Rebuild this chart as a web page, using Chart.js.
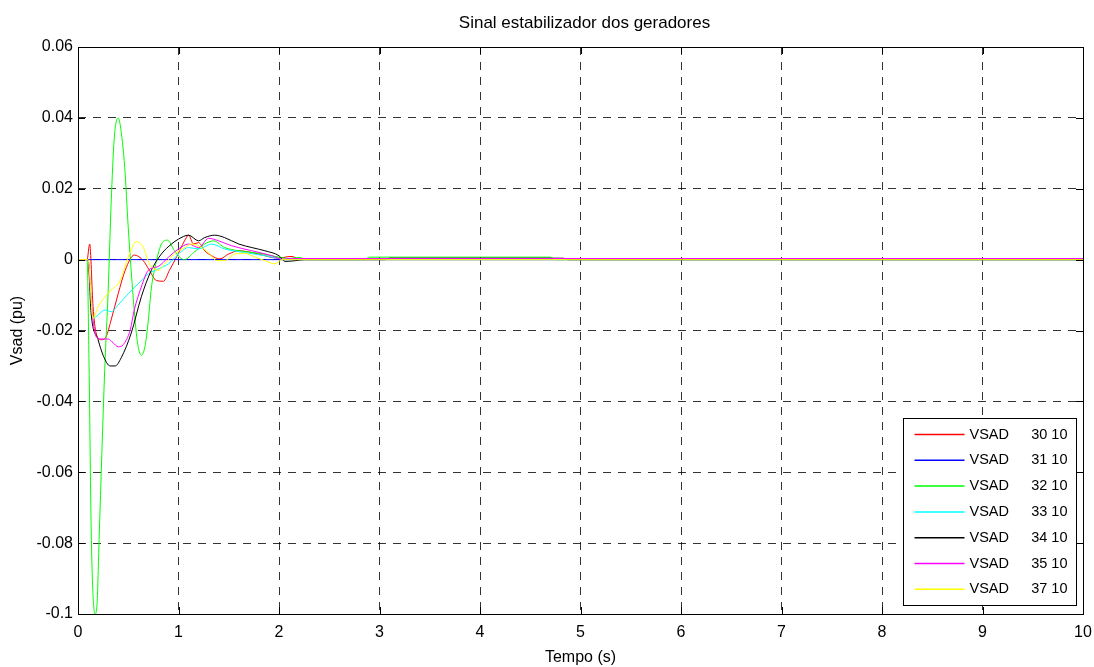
<!DOCTYPE html>
<html>
<head>
<meta charset="utf-8">
<script src="https://cdn.jsdelivr.net/npm/chart.js@4"></script>
<style>
  body { margin: 0; background: #fff; }
  canvas { display: block; }
</style>
</head>
<body>
<canvas id="vsad" width="1094" height="667"></canvas>
<script>
const TITLE = 'Sinal estabilizador dos geradores';

// axis ticks
const xTicks = [0, 1, 2, 3, 4, 5, 6, 7, 8, 9, 10];
const xTickLabels = ['0', '1', '2', '3', '4', '5', '6', '7', '8', '9', '10'];
const yTicks = [-0.1, -0.08, -0.06, -0.04, -0.02, 0, 0.02, 0.04, 0.06];
const yTickLabels = ['-0.1', '-0.08', '-0.06', '-0.04', '-0.02', '0', '0.02', '0.04', '0.06'];

// legend names (generator bus)
const names = ['VSAD      30 10', 'VSAD      31 10', 'VSAD      32 10', 'VSAD      33 10',
               'VSAD      34 10', 'VSAD      35 10', 'VSAD      37 10'];
const colors = ['#ff0000', '#0000ff', '#00ff00', '#00ffff', '#000000', '#ff00ff', '#ffff00'];

// series: time (s) and Vsad (pu)
const t30 = [0, 0.09, 0.116, 0.15, 0.18, 0.23, 0.28, 0.33, 0.40, 0.47, 0.56, 0.65, 0.71, 0.78, 0.85, 0.91, 0.98, 1.06, 1.10, 1.15, 1.20, 1.26, 1.33, 1.41, 1.50, 1.60, 1.73, 1.86, 1.93, 2.0, 2.08, 2.13, 2.2, 10];
const v30 = [0, 0, 0.0044, -0.0133, -0.0207, -0.0226, -0.0217, -0.017, -0.0096, -0.003, 0.0013, -0.0003, -0.003, -0.0059, -0.0061, -0.003, 0.0007, 0.0053, 0.0069, 0.0044, 0.0048, 0.0025, 0.0011, 0.0002, 0.0016, 0.0025, 0.002, 0.0011, 0.0006, 0.0004, 0.0008, 0.0009, 0, 0];

const t31 = [0, 10];
const v31 = [0, 0];

const t32 = [0, 0.09, 0.11, 0.133, 0.17, 0.19, 0.21, 0.266, 0.30, 0.33, 0.36, 0.40, 0.42, 0.465, 0.50, 0.55, 0.59, 0.63, 0.67, 0.70, 0.73, 0.76, 0.83, 0.89, 0.96, 1.02, 1.06, 1.15, 1.26, 1.35, 1.46, 1.6, 1.8, 2.0, 2.1, 2.2, 2.28, 2.85, 2.9, 4.7, 4.75, 10];
const v32 = [0, 0, -0.03, -0.079, -0.1, -0.097, -0.079, -0.031, -0.009, 0.016, 0.034, 0.040, 0.038, 0.026, 0.009, -0.011, -0.023, -0.027, -0.024, -0.017, -0.008, -0.003, 0.0044, 0.0055, 0.0025, 0.0005, 0, 0.002, 0.0044, 0.0053, 0.0034, 0.0025, 0.0018, 0.0007, 0.0003, 0.0006, 0, 0, 0.0007, 0.0007, 0, 0];

const t33 = [0, 0.1, 0.13, 0.15, 0.2, 0.27, 0.33, 0.4, 0.5, 0.6, 0.7, 0.8, 0.9, 1.0, 1.1, 1.2, 1.33, 1.46, 1.66, 1.86, 2.0, 2.05, 10];
const v33 = [0, 0, -0.01, -0.0166, -0.0156, -0.0142, -0.0147, -0.0128, -0.0096, -0.0068, -0.004, -0.0026, -0.0012, 0.0016, 0.0034, 0.003, 0.0044, 0.003, 0.002, 0.0011, 0.0003, 0, 0];

const t34 = [0, 0.1, 0.13, 0.2, 0.25, 0.32, 0.37, 0.43, 0.53, 0.63, 0.73, 0.83, 0.93, 1.0, 1.1, 1.2, 1.26, 1.36, 1.46, 1.6, 1.73, 1.86, 2.0, 2.06, 2.16, 2.25, 3.05, 3.1, 4.83, 4.88, 10];
const v34 = [0, 0, -0.015, -0.0226, -0.027, -0.030, -0.030, -0.0277, -0.0207, -0.0105, -0.003, 0.0016, 0.0044, 0.0058, 0.0069, 0.0053, 0.0062, 0.0069, 0.0062, 0.0044, 0.0034, 0.0025, 0.0011, -0.0005, -0.0003, 0, 0, 0.0004, 0.0004, 0, 0];

const t35 = [0, 0.1, 0.13, 0.18, 0.23, 0.3, 0.35, 0.4, 0.45, 0.52, 0.56, 0.63, 0.7, 0.8, 0.9, 1.0, 1.1, 1.2, 1.3, 1.4, 1.53, 1.73, 1.93, 2.03, 2.1, 10];
const v35 = [0, 0, -0.0114, -0.0217, -0.0224, -0.0224, -0.0235, -0.0246, -0.024, -0.0198, -0.0142, -0.0077, -0.003, -0.0019, 0.0007, 0.003, 0.0044, 0.0034, 0.006, 0.0053, 0.0039, 0.0025, 0.0011, 0.0001, 0.0003, 0.0003];

const t37 = [0, 0.1, 0.15, 0.2, 0.27, 0.33, 0.42, 0.5, 0.58, 0.65, 0.71, 0.8, 0.86, 0.96, 1.06, 1.13, 1.23, 1.31, 1.38, 1.46, 1.56, 1.66, 1.76, 1.86, 1.96, 2.03, 10];
const v37 = [0, 0, -0.0166, -0.0133, -0.0105, -0.0086, -0.0059, 0.0007, 0.0051, 0.0034, -0.0012, -0.003, -0.0012, 0.0016, 0.0034, 0.0044, 0.0034, 0.0016, -0.0003, -0.0003, 0.0016, 0.0018, 0.0007, -0.0003, -0.0012, 0, 0];

const times = [t30, t31, t32, t33, t34, t35, t37];
const values = [v30, v31, v32, v33, v34, v35, v37];

const FONT = '"Liberation Sans", Arial, sans-serif';

// matlab style: title over the axes, box, inner ticks, legend box
const axesBox = {
    id: 'axesBox',
    afterDraw(chart) {
        const ctx = chart.ctx;
        const a = chart.chartArea;
        const xs = chart.scales.x, ys = chart.scales.y;
        ctx.save();

        ctx.fillStyle = '#000';
        ctx.font = '17px ' + FONT;
        ctx.textAlign = 'center';
        ctx.textBaseline = 'middle';
        ctx.fillText(TITLE, (a.left + a.right) / 2 + 4, 23);

        ctx.setLineDash([]);
        ctx.strokeStyle = '#000';
        ctx.lineWidth = 1;
        ctx.strokeRect(Math.round(a.left) + 0.5, Math.round(a.top) + 0.5,
            Math.round(a.right - a.left), Math.round(a.bottom - a.top));
        ctx.beginPath();
        xTicks.forEach(v => {
            const px = Math.round(xs.getPixelForValue(v)) + 0.5;
            ctx.moveTo(px, a.bottom); ctx.lineTo(px, a.bottom - 7);
            ctx.moveTo(px, a.top); ctx.lineTo(px, a.top + 7);
        });
        yTicks.forEach(v => {
            const py = Math.round(ys.getPixelForValue(v)) + 0.5;
            ctx.moveTo(a.left, py); ctx.lineTo(a.left + 7, py);
            ctx.moveTo(a.right, py); ctx.lineTo(a.right - 7, py);
        });
        ctx.stroke();

        // legend
        const w = 173, h = 187;
        const lx = Math.round(a.right - 7 - w) + 0.5;
        const ly = Math.round(a.bottom - 9 - h) + 0.5;
        ctx.fillStyle = '#fff';
        ctx.fillRect(lx, ly, w, h);
        ctx.strokeRect(lx, ly, w, h);
        ctx.font = '14.5px ' + FONT;
        ctx.textBaseline = 'middle';
        chart.data.datasets.forEach((ds, i) => {
            const y = ly + 16 + i * 25.8;
            ctx.strokeStyle = ds.borderColor;
            ctx.lineWidth = 1.5;
            ctx.beginPath();
            ctx.moveTo(lx + 11, y); ctx.lineTo(lx + 61, y);
            ctx.stroke();
            const parts = ds.label.split(/\s{2,}/);
            ctx.fillStyle = '#000';
            ctx.textAlign = 'left';
            ctx.fillText(parts[0], lx + 66, y);
            ctx.textAlign = 'right';
            ctx.fillText(parts[1], lx + 164, y);
        });
        ctx.restore();
    }
};

new Chart(document.getElementById('vsad'), {
    type: 'line',
    data: {
        datasets: names.map((name, i) => ({
            label: name,
            data: times[i].map((t, k) => ({ x: t, y: values[i][k] })),
            borderColor: colors[i],
            backgroundColor: colors[i],
            borderWidth: 1,
            pointRadius: 0,
            cubicInterpolationMode: 'monotone',
            order: names.length - 1 - i
        }))
    },
    options: {
        responsive: false,
        animation: false,
        devicePixelRatio: 1,
        layout: { padding: { left: 0, right: 11, top: 47, bottom: 0 } },
        plugins: {
            legend: { display: false },
            tooltip: { enabled: false },
            title: { display: false }
        },
        scales: {
            x: {
                type: 'linear',
                min: 0, max: 10,
                afterFit(s) { s.height = 53; s.paddingRight = 0; s.paddingLeft = 0; },
                afterBuildTicks(s) { s.ticks = xTicks.map(v => ({ value: v })); },
                ticks: {
                    color: '#000',
                    padding: 9,
                    maxRotation: 0,
                    font: { family: FONT, size: 16 },
                    callback: (v, i) => xTickLabels[i]
                },
                grid: { color: 'rgba(0,0,0,0.8)', lineWidth: 1, drawTicks: false },
                border: { display: false, dash: [8, 7] },
                title: {
                    display: true, text: 'Tempo (s)', color: '#000',
                    font: { family: FONT, size: 16 }, padding: { top: 0, bottom: 0 }
                }
            },
            y: {
                type: 'linear',
                min: -0.1, max: 0.06,
                afterFit(s) { s.width = 78; s.paddingTop = 0; s.paddingBottom = 0; },
                afterBuildTicks(s) { s.ticks = yTicks.map(v => ({ value: v })); },
                ticks: {
                    color: '#000',
                    padding: 5,
                    font: { family: FONT, size: 16 },
                    callback: (v, i) => yTickLabels[i]
                },
                grid: { color: 'rgba(0,0,0,0.8)', lineWidth: 1, drawTicks: false },
                border: { display: false, dash: [8, 7] },
                title: {
                    display: true, text: 'Vsad (pu)', color: '#000',
                    font: { family: FONT, size: 16 }, padding: { top: 8, bottom: 0 }
                }
            }
        }
    },
    plugins: [axesBox]
});
</script>
</body>
</html>
